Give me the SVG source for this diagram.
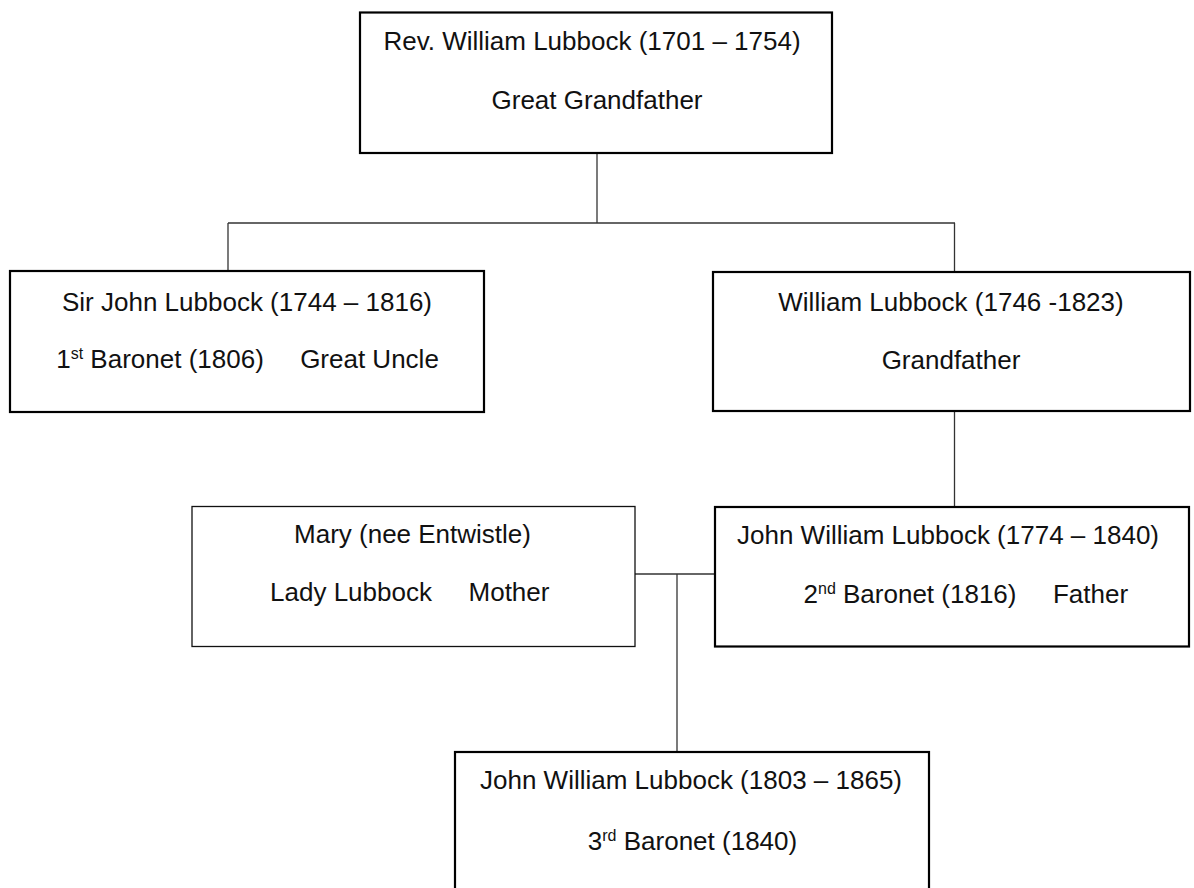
<svg xmlns="http://www.w3.org/2000/svg" width="1194" height="888" viewBox="0 0 1194 888">
<style>
  .box { fill: #ffffff; stroke: #000000; stroke-width: 2.2; }
  .box-thin { fill: #ffffff; stroke: #111111; stroke-width: 1.3; }
  .conn { fill: none; stroke: #333333; stroke-width: 1.3; }
  text { font-family: "Liberation Sans", Arial, sans-serif; font-size: 26px; fill: #111111; text-anchor: middle; }
  .sup { font-size: 16px; }
</style>
<rect width="1194" height="888" fill="#ffffff"/>
<g id="connectors">
  <line class="conn" x1="597" y1="153" x2="597" y2="223"/>
  <line class="conn" x1="228" y1="223" x2="955" y2="223"/>
  <line class="conn" x1="228" y1="223" x2="228" y2="271"/>
  <line class="conn" x1="954.5" y1="223" x2="954.5" y2="272"/>
  <line class="conn" x1="954.5" y1="411" x2="954.5" y2="507"/>
  <line class="conn" x1="635" y1="574" x2="715" y2="574"/>
  <line class="conn" x1="677" y1="574" x2="677" y2="752"/>
</g>
<g id="node-rev-william">
  <rect class="box" x="360" y="12.5" width="472" height="140.5"/>
  <text x="592" y="50">Rev. William Lubbock (1701 – 1754)</text>
  <text x="597" y="109">Great Grandfather</text>
</g>
<g id="node-sir-john">
  <rect class="box" x="10" y="271" width="474" height="141"/>
  <text x="247" y="310.5">Sir John Lubbock (1744 – 1816)</text>
  <text x="160" y="368">1<tspan class="sup" dy="-9">st</tspan><tspan dy="9"> Baronet (1806)</tspan></text>
  <text x="369.5" y="368">Great Uncle</text>
</g>
<g id="node-william">
  <rect class="box" x="713" y="272" width="477" height="139"/>
  <text x="951" y="310.5">William Lubbock (1746 -1823)</text>
  <text x="951" y="369">Grandfather</text>
</g>
<g id="node-mary">
  <rect class="box-thin" x="192" y="506.5" width="443" height="140"/>
  <text x="412.5" y="543">Mary (nee Entwistle)</text>
  <text x="351" y="601">Lady Lubbock</text>
  <text x="509" y="601">Mother</text>
</g>
<g id="node-john-william-1774">
  <rect class="box" x="715" y="507" width="474" height="139.5"/>
  <text x="948" y="544">John William Lubbock (1774 – 1840)</text>
  <text x="910" y="603">2<tspan class="sup" dy="-9">nd</tspan><tspan dy="9"> Baronet (1816)</tspan></text>
  <text x="1090.5" y="603">Father</text>
</g>
<g id="node-john-william-1803">
  <rect class="box" x="455" y="752" width="474" height="150"/>
  <text x="691" y="789">John William Lubbock (1803 – 1865)</text>
  <text x="692.5" y="850">3<tspan class="sup" dy="-9">rd</tspan><tspan dy="9"> Baronet (1840)</tspan></text>
</g>
</svg>
